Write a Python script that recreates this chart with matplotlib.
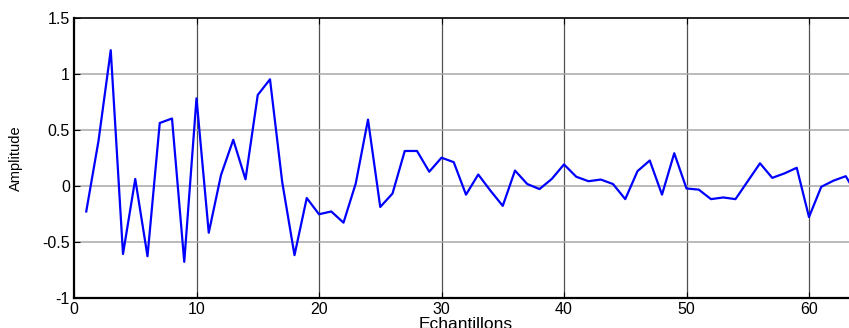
import matplotlib
matplotlib.use("Agg")
import matplotlib.pyplot as plt
import numpy as np

# Sample index and amplitude of the signal
samples = list(range(1, 65))
amplitude = [
    -0.23, 0.40, 1.21, -0.61, 0.06, -0.63, 0.56, 0.60, -0.68, 0.78,
    -0.42, 0.095, 0.41, 0.057, 0.81, 0.95, 0.03, -0.62, -0.11, -0.255,
    -0.23, -0.33, 0.02, 0.59, -0.19, -0.07, 0.31, 0.31, 0.125, 0.25,
    0.21, -0.08, 0.10, -0.045, -0.18, 0.135, 0.015, -0.03, 0.06, 0.19,
    0.08, 0.04, 0.055, 0.015, -0.12, 0.13, 0.225, -0.08, 0.29, -0.025,
    -0.035, -0.12, -0.105, -0.12, 0.04, 0.20, 0.07, 0.11, 0.16, -0.28,
    -0.01, 0.045, 0.085, -0.10,
]
xticks = [0, 10, 20, 30, 40, 50, 60]
yticks = [-1, -0.5, 0, 0.5, 1, 1.5]
ytick_labels = ["-1", "-0.5", "0", "0.5", "1", "1.5"]

plt.rcParams["font.family"] = ["Liberation Sans", "DejaVu Sans"]

fig = plt.figure(figsize=(8.49, 3.28), dpi=100)
W, H = 849, 328
left, right, top, bottom = 74, 858, 17.7, 297.7
ax = fig.add_axes([left / W, 1 - bottom / H, (right - left) / W, (bottom - top) / H])

ax.plot(samples, amplitude, color="#0000ff", lw=1.6, zorder=3)

ax.set_xlim(0, 64)
ax.set_ylim(-1, 1.5)
ax.set_xticks(xticks)
ax.set_yticks(yticks)
ax.set_yticklabels(ytick_labels)

# Vertical grid darker than horizontal grid
for x in xticks[1:]:
    ax.axvline(x, color="#505050", lw=0.9, zorder=1)
for y in yticks[1:-1]:
    ax.axhline(y, color="#a8a8a8", lw=1.1, zorder=1)

ax.tick_params(direction="in", length=4, width=0.8, top=True, right=False,
               labelsize=11.5, colors="black", pad=3)
for side in ("left", "bottom"):
    ax.spines[side].set_linewidth(1.6)
ax.spines["top"].set_linewidth(1.2)
ax.spines["right"].set_visible(False)

ax.set_xlabel("Echantillons", fontsize=12.5)
ax.xaxis.set_label_coords(0.5, -0.068)
ax.set_ylabel("Amplitude", fontsize=10.5,
              family=["Liberation Sans Narrow", "Liberation Sans", "DejaVu Sans"])
ax.yaxis.set_label_coords(-0.065, 0.5)

fig.savefig("out.png", dpi=100)
